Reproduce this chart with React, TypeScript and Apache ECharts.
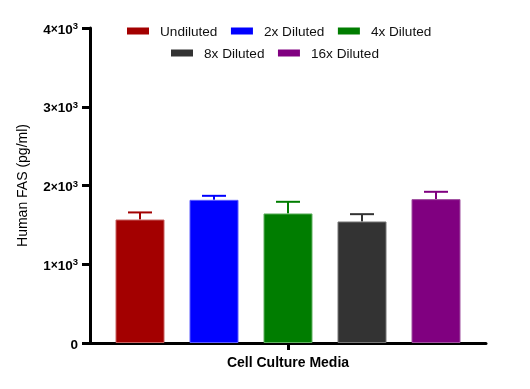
import React, { useEffect, useRef } from "react";
import * as echarts from "echarts";

const categories = ["Cell Culture Media"];
const seriesNames = ["Undiluted", "2x Diluted", "4x Diluted", "8x Diluted", "16x Diluted"];
const means = [1568, 1818, 1645, 1543, 1827];
const errTops = [1658, 1869, 1793, 1636, 1920];
const colors = ["#A30000", "#0000FF", "#007D00", "#333333", "#800080"];
const borderColors = ["#C86060", "#5A5AFF", "#60B060", "#777777", "#A050A0"];
const yTicks = [0, 1000, 2000, 3000, 4000];

const BAR_W = 49;
const BAR_GAP = 25;

export default function App() {
  const ref = useRef<HTMLDivElement>(null);
  useEffect(() => {
    if (!ref.current) return;
    const chart = echarts.init(ref.current, undefined, { renderer: "svg" });
    const font = "Liberation Sans, Arial, sans-serif";
    const barSeries = seriesNames.map((name, i) => ({
      name,
      type: "bar",
      data: [means[i]],
      barWidth: BAR_W,
      barGap: (BAR_GAP / BAR_W) * 100 + "%",
      itemStyle: { color: colors[i], borderColor: borderColors[i], borderWidth: 1 },
      z: 3,
    }));
    const errData = seriesNames.map((_, i) => [0, errTops[i], means[i], i]);
    const legendBase = {
      icon: "rect",
      itemWidth: 22,
      itemHeight: 7,
      itemGap: 13.5,
      padding: 0,
      itemStyle: { borderWidth: 0 },
      textStyle: { fontFamily: font, fontSize: 13.6, color: "#111", padding: [0, 0, 0, 6] },
    };
    const option = {
      animation: false,
      grid: { left: 90, right: 44, top: 28, bottom: 46 },
      legend: [
        { ...legendBase, data: seriesNames.slice(0, 3), left: 127, top: 24 },
        { ...legendBase, data: seriesNames.slice(3), left: 171, top: 46 },
      ],
      xAxis: {
        type: "category",
        data: categories,
        axisLine: { lineStyle: { color: "#000", width: 3 } },
        axisTick: { show: true, alignWithLabel: true, length: 7, lineStyle: { color: "#000", width: 3 } },
        axisLabel: { fontFamily: font, fontSize: 14, fontWeight: "bold", color: "#000", margin: 12 },
      },
      yAxis: {
        type: "value",
        min: yTicks[0],
        max: yTicks[yTicks.length - 1],
        interval: 1000,
        name: "Human FAS (pg/ml)",
        nameLocation: "middle",
        nameRotate: 90,
        nameGap: 61,
        nameTextStyle: { fontFamily: font, fontSize: 14, color: "#000" },
        splitLine: { show: false },
        axisLine: { show: true, lineStyle: { color: "#000", width: 3 } },
        axisTick: { show: true, length: 8, lineStyle: { color: "#000", width: 3 } },
        axisLabel: {
          margin: 12,
          color: "#000",
          formatter: (v: number) => (v === 0 ? "{a|0}" : `{a|${v / 1000}}{x|×}{a|10}{s|3}`),
          rich: {
            a: { fontFamily: font, fontSize: 13.5, fontWeight: "bold", color: "#000", padding: [2, 0, 0, 0] },
            x: { fontFamily: font, fontSize: 12, fontWeight: "bold", color: "#000", padding: [2, 0, 0, 0] },
            s: { fontFamily: font, fontSize: 9.5, fontWeight: "bold", color: "#000", padding: [0, 0, 5, 0] },
          },
        },
      },
      series: [
        ...barSeries,
        {
          type: "custom",
          name: "err",
          data: errData,
          z: 2,
          renderItem: (params: any, api: any) => {
            const idx = api.value(3);
            const base = api.coord([api.value(0), api.value(2)]);
            const top = api.coord([api.value(0), api.value(1)]);
            const x = base[0] + (idx - 2) * (BAR_W + BAR_GAP);
            const c = colors[idx];
            return {
              type: "group",
              children: [
                { type: "line", shape: { x1: x, y1: base[1], x2: x, y2: top[1] }, style: { stroke: c, lineWidth: 2 } },
                { type: "line", shape: { x1: x - 12, y1: top[1], x2: x + 12, y2: top[1] }, style: { stroke: c, lineWidth: 2 } },
              ],
            };
          },
        },
      ],
    };
    chart.setOption(option as any);
    return () => chart.dispose();
  }, []);
  return <div ref={ref} style={{ position: "fixed", left: 0, top: 0, width: 530, height: 389 }} />;
}
